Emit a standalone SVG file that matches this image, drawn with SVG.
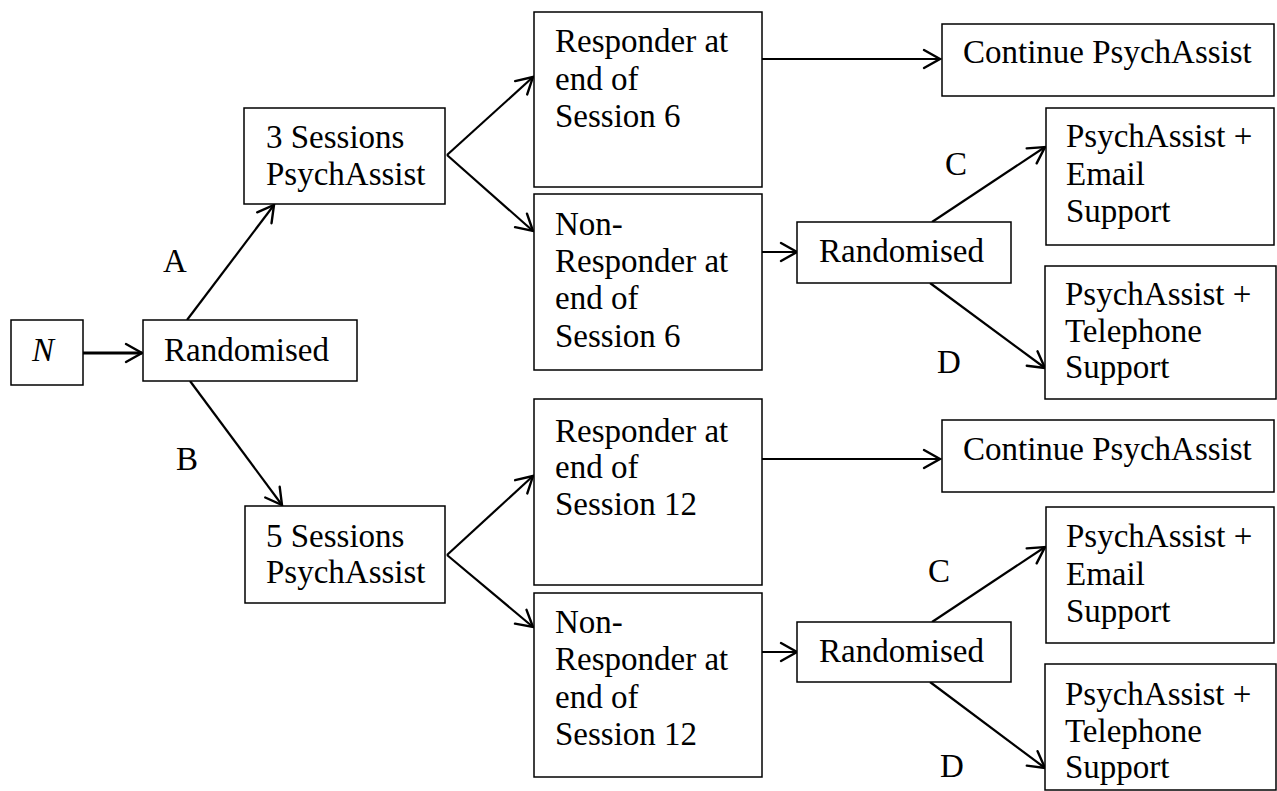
<svg xmlns="http://www.w3.org/2000/svg" width="1277" height="791" viewBox="0 0 1277 791">
<defs>
<style>
.box{fill:#fff;stroke:#000;stroke-width:1.5}
.t{font-family:"Liberation Serif","Times New Roman",serif;font-size:33px;fill:#000}
.c{fill:none;stroke:#000;stroke-width:2.2}
</style>
<marker id="ah" markerUnits="userSpaceOnUse" markerWidth="24" markerHeight="24" viewBox="-20 -12 24 24" refX="0" refY="0" orient="auto">
<path d="M-16,-9 L0,0 L-16,9" fill="none" stroke="#000" stroke-width="2.4" stroke-linecap="round" stroke-linejoin="miter"/>
</marker>
</defs>
<rect width="1277" height="791" fill="#fff"/>

<g id="connectors">
<line class="c" style="stroke-width:3" x1="83" y1="353" x2="142" y2="353" marker-end="url(#ah)"/>
<line class="c" x1="187" y1="320" x2="274" y2="205" marker-end="url(#ah)"/>
<line class="c" x1="190" y1="381" x2="282" y2="505" marker-end="url(#ah)"/>
<line class="c" x1="447" y1="155" x2="533" y2="77" marker-end="url(#ah)"/>
<line class="c" x1="447" y1="155" x2="533" y2="231" marker-end="url(#ah)"/>
<line class="c" x1="762" y1="59" x2="940" y2="59" marker-end="url(#ah)"/>
<line class="c" x1="762" y1="252" x2="797" y2="252" marker-end="url(#ah)"/>
<line class="c" x1="932" y1="222" x2="1045" y2="147" marker-end="url(#ah)"/>
<line class="c" x1="930" y1="283" x2="1045" y2="368" marker-end="url(#ah)"/>
<line class="c" x1="447" y1="555" x2="533" y2="476" marker-end="url(#ah)"/>
<line class="c" x1="447" y1="555" x2="533" y2="627" marker-end="url(#ah)"/>
<line class="c" x1="762" y1="459" x2="940" y2="459" marker-end="url(#ah)"/>
<line class="c" x1="762" y1="652" x2="797" y2="652" marker-end="url(#ah)"/>
<line class="c" x1="932" y1="622" x2="1045" y2="547" marker-end="url(#ah)"/>
<line class="c" x1="930" y1="682" x2="1045" y2="768" marker-end="url(#ah)"/>
</g>

<g id="labels">
<text class="t" x="163" y="272">A</text>
<text class="t" x="176" y="470">B</text>
<text class="t" x="945" y="175">C</text>
<text class="t" x="937" y="373">D</text>
<text class="t" x="928" y="582">C</text>
<text class="t" x="940" y="777">D</text>
</g>

<g id="n-N">
<rect class="box" x="11" y="320" width="72" height="65"/>
<text class="t" x="32" y="361" font-style="italic">N</text>
</g>
<g id="n-rand1">
<rect class="box" x="143" y="320" width="214" height="61"/>
<text class="t" x="164" y="361">Randomised</text>
</g>
<g id="n-3sessions">
<rect class="box" x="244" y="108" width="201" height="96"/>
<text class="t" x="266" y="148">3 Sessions</text>
<text class="t" x="266" y="185">PsychAssist</text>
</g>
<g id="n-5sessions">
<rect class="box" x="245" y="506" width="200" height="97"/>
<text class="t" x="266" y="547">5 Sessions</text>
<text class="t" x="266" y="583">PsychAssist</text>
</g>
<g id="n-resp6">
<rect class="box" x="534" y="12" width="228" height="175"/>
<text class="t" x="555" y="52">Responder at</text>
<text class="t" x="555" y="90">end of</text>
<text class="t" x="555" y="127">Session 6</text>
</g>
<g id="n-nonresp6">
<rect class="box" x="534" y="194" width="228" height="176"/>
<text class="t" x="555" y="235">Non-</text>
<text class="t" x="555" y="272">Responder at</text>
<text class="t" x="555" y="309">end of</text>
<text class="t" x="555" y="347">Session 6</text>
</g>
<g id="n-cont1">
<rect class="box" x="942" y="24" width="332" height="72"/>
<text class="t" x="963" y="63">Continue PsychAssist</text>
</g>
<g id="n-rand2">
<rect class="box" x="797" y="222" width="214" height="61"/>
<text class="t" x="819" y="262">Randomised</text>
</g>
<g id="n-email1">
<rect class="box" x="1046" y="108" width="228" height="137"/>
<text class="t" x="1066" y="147">PsychAssist +</text>
<text class="t" x="1066" y="185">Email</text>
<text class="t" x="1066" y="222">Support</text>
</g>
<g id="n-tel1">
<rect class="box" x="1045" y="266" width="231" height="133"/>
<text class="t" x="1065" y="305">PsychAssist +</text>
<text class="t" x="1065" y="342">Telephone</text>
<text class="t" x="1065" y="378">Support</text>
</g>
<g id="n-resp12">
<rect class="box" x="534" y="399" width="228" height="186"/>
<text class="t" x="555" y="442">Responder at</text>
<text class="t" x="555" y="478">end of</text>
<text class="t" x="555" y="515">Session 12</text>
</g>
<g id="n-nonresp12">
<rect class="box" x="534" y="593" width="228" height="184"/>
<text class="t" x="555" y="633">Non-</text>
<text class="t" x="555" y="670">Responder at</text>
<text class="t" x="555" y="708">end of</text>
<text class="t" x="555" y="745">Session 12</text>
</g>
<g id="n-cont2">
<rect class="box" x="942" y="420" width="332" height="72"/>
<text class="t" x="963" y="460">Continue PsychAssist</text>
</g>
<g id="n-rand3">
<rect class="box" x="797" y="622" width="214" height="60"/>
<text class="t" x="819" y="662">Randomised</text>
</g>
<g id="n-email2">
<rect class="box" x="1046" y="507" width="228" height="136"/>
<text class="t" x="1066" y="547">PsychAssist +</text>
<text class="t" x="1066" y="585">Email</text>
<text class="t" x="1066" y="622">Support</text>
</g>
<g id="n-tel2">
<rect class="box" x="1045" y="664" width="231" height="126"/>
<text class="t" x="1065" y="705">PsychAssist +</text>
<text class="t" x="1065" y="742">Telephone</text>
<text class="t" x="1065" y="778">Support</text>
</g>
</svg>
